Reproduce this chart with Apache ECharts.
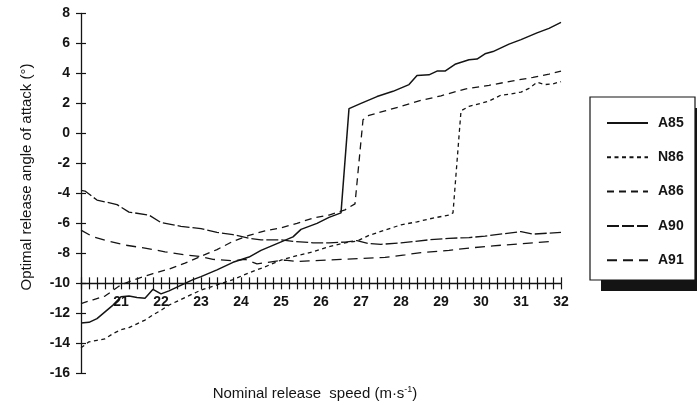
<!DOCTYPE html>
<html>
<head>
<meta charset="utf-8">
<script src="https://cdn.jsdelivr.net/npm/echarts@6/dist/echarts.min.js"></script>
<style>html,body{margin:0;padding:0;background:#fff}#c{width:697px;height:405px}</style>
</head>
<body>
<div id="c"></div>
<script>
// ---- data ----
const xTicks = [21,22,23,24,25,26,27,28,29,30,31,32];
const yTicks = [-16,-14,-12,-10,-8,-6,-4,-2,0,2,4,6,8];

const speedA85 = [20.0,20.2,20.4,20.6,20.8,21.0,21.2,21.4,21.6,21.8,22.0,22.2,22.4,22.6,22.8,23.0,23.4,23.8,24.2,24.5,24.9,25.3,25.5,25.9,26.2,26.5,26.7,27.0,27.4,27.8,28.2,28.4,28.7,28.9,29.1,29.35,29.7,29.9,30.1,30.3,30.7,31.0,31.4,31.7,32.0];
const angleA85 = [-12.65,-12.6,-12.35,-11.9,-11.45,-10.9,-10.85,-10.95,-11.0,-10.4,-10.7,-10.5,-10.25,-10.0,-9.75,-9.55,-9.1,-8.6,-8.25,-7.8,-7.35,-6.9,-6.4,-6.0,-5.6,-5.3,1.65,2.0,2.45,2.8,3.25,3.85,3.9,4.15,4.15,4.6,4.9,4.95,5.3,5.45,5.95,6.25,6.7,7.0,7.4];

const speedN86 = [20.0,20.2,20.4,20.6,20.8,21.0,21.2,21.4,21.6,21.8,22.0,22.2,22.4,22.6,22.8,23.0,23.4,23.8,24.2,24.6,25.0,25.4,25.8,26.2,26.6,26.9,27.2,27.6,28.0,28.4,28.8,29.2,29.3,29.5,29.7,30.0,30.2,30.5,30.7,31.0,31.2,31.4,31.6,31.8,32.0];
const angleN86 = [-14.3,-13.9,-13.8,-13.7,-13.35,-13.1,-12.95,-12.7,-12.45,-12.1,-11.8,-11.45,-11.2,-10.95,-10.7,-10.45,-10.1,-9.75,-9.3,-8.9,-8.45,-8.15,-7.9,-7.55,-7.3,-7.18,-6.8,-6.45,-6.1,-5.9,-5.65,-5.45,-5.3,1.5,1.8,2.0,2.15,2.55,2.6,2.75,3.0,3.4,3.25,3.3,3.45];

const speedA86 = [20.0,20.3,20.6,21.0,21.4,21.8,22.2,22.6,23.0,23.4,23.8,24.2,24.6,25.0,25.4,25.8,26.2,26.6,26.85,27.05,27.2,27.6,28.0,28.5,29.0,29.6,30.2,30.8,31.3,31.7,32.0];
const angleA86 = [-11.35,-11.1,-10.85,-10.1,-9.7,-9.35,-9.05,-8.65,-8.2,-7.75,-7.2,-6.8,-6.5,-6.3,-6.0,-5.65,-5.45,-5.1,-4.7,0.9,1.2,1.5,1.8,2.2,2.5,2.95,3.2,3.5,3.73,3.95,4.15];

const speedA90 = [20.0,20.1,20.4,20.9,21.2,21.7,22.0,22.5,23.0,23.4,23.8,24.2,24.5,25.0,25.3,25.8,26.2,26.6,26.9,27.2,27.5,28.0,28.7,29.2,29.7,30.1,30.7,31.0,31.3,31.7,32.0];
const angleA90 = [-3.8,-3.85,-4.45,-4.75,-5.25,-5.45,-5.95,-6.2,-6.35,-6.6,-6.75,-7.0,-7.1,-7.1,-7.2,-7.3,-7.3,-7.25,-7.15,-7.35,-7.4,-7.3,-7.1,-7.0,-6.95,-6.85,-6.65,-6.55,-6.72,-6.65,-6.6];

const speedA91 = [20.0,20.3,20.7,21.1,21.6,22.1,22.6,23.0,23.3,23.8,24.1,24.4,24.8,25.1,25.4,25.7,26.2,26.5,27.0,27.6,28.1,28.5,29.2,29.7,30.3,30.9,31.4,31.8];
const angleA91 = [-6.45,-6.9,-7.2,-7.45,-7.65,-7.9,-8.1,-8.22,-8.4,-8.5,-8.4,-8.7,-8.55,-8.45,-8.55,-8.5,-8.45,-8.4,-8.35,-8.27,-8.1,-7.95,-7.8,-7.65,-7.5,-7.38,-7.28,-7.2];

const seriesNames = ['A85','N86','A86','A90','A91'];

// ---- chart ----
const FONT = '"Liberation Sans", Arial, Helvetica, sans-serif';
const INK = '#141414';
const zip = (xs, ys) => xs.map((x, i) => [x, ys[i]]);
const dashes = {
  A85: 'solid',
  N86: [4, 3.5],
  A86: [7, 5],
  A90: [12, 3],
  A91: [10, 6]
};
const widths = {A85: 1.5, N86: 1.3, A86: 1.3, A90: 1.3, A91: 1.3};
const dataMap = {
  A85: zip(speedA85, angleA85),
  N86: zip(speedN86, angleN86),
  A86: zip(speedA86, angleA86),
  A90: zip(speedA90, angleA90),
  A91: zip(speedA91, angleA91)
};

const chart = echarts.init(document.getElementById('c'), null, {renderer: 'canvas'});

const xBase = {
  type: 'value', min: 20, max: 32, interval: 1, position: 'bottom',
  offset: -90,
  splitLine: {show: false}
};
const yBase = {
  type: 'value', min: -16, max: 8, interval: 2, position: 'left', offset: 0,
  splitLine: {show: false}
};

// legend frame geometry
const LG = {x: 590, y: 97, w: 105, h: 183, sh: 11};

chart.setOption({
  animation: false,
  backgroundColor: '#fff',
  grid: {left: 81, right: 136, top: 13.33, bottom: 31.67, containLabel: false, outerBoundsMode: 'none'},
  xAxis: [
    Object.assign({}, xBase, {
      axisLine: {show: true, onZero: false, lineStyle: {color: INK, width: 1.3}},
      axisTick: {show: true, inside: false, length: 6, lineStyle: {color: INK, width: 1.2}},
      minorTick: {show: true, splitNumber: 5, length: 6, lineStyle: {color: INK, width: 1.2}},
      axisLabel: {
        show: true, margin: 12, fontSize: 14, fontWeight: 'bold', fontFamily: FONT, color: INK,
        formatter: v => (xTicks.indexOf(Math.round(v)) >= 0 && Math.abs(v - Math.round(v)) < 1e-6) ? String(Math.round(v)) : ''
      }
    }),
    Object.assign({}, xBase, {
      axisLine: {show: false, onZero: false},
      axisTick: {show: true, inside: true, length: 6, lineStyle: {color: INK, width: 1.2}},
      minorTick: {show: true, splitNumber: 5, length: 6, lineStyle: {color: INK, width: 1.2}},
      axisLabel: {show: false}
    })
  ],
  yAxis: [
    Object.assign({}, yBase, {
      axisLine: {show: true, onZero: false, lineStyle: {color: INK, width: 1.3}},
      axisTick: {show: true, inside: false, length: 5, lineStyle: {color: INK, width: 1.2}},
      axisLabel: {
        show: true, margin: 11, fontSize: 14, fontWeight: 'bold', fontFamily: FONT, color: INK,
        formatter: v => yTicks.indexOf(v) >= 0 ? String(v) : ''
      }
    }),
    Object.assign({}, yBase, {
      axisLine: {show: false, onZero: false},
      axisTick: {show: true, inside: true, length: 5, lineStyle: {color: INK, width: 1.2}},
      axisLabel: {show: false}
    })
  ],
  legend: {
    orient: 'vertical',
    left: LG.x, top: LG.y,
    data: seriesNames,
    itemWidth: 41, itemHeight: 14, itemGap: 20.3,
    padding: [19, 12, 13, 16],
    backgroundColor: 'transparent',
    borderWidth: 0,
    itemStyle: {opacity: 0},
    textStyle: {fontSize: 14, fontWeight: 'bold', fontFamily: FONT, color: INK, padding: [0, 0, 0, 5]},
    selectedMode: false,
    z: 20
  },
  graphic: [
    {
      type: 'rect', z: 10,
      shape: {x: LG.x + LG.sh, y: LG.y + LG.sh, width: LG.w, height: LG.h},
      style: {fill: INK, stroke: null}
    },
    {
      type: 'rect', z: 11,
      shape: {x: LG.x, y: LG.y, width: LG.w, height: LG.h},
      style: {fill: '#fff', stroke: INK, lineWidth: 1.2}
    },
    {
      type: 'text', x: 315, y: 394,
      style: {
        text: '{a|Nominal release  speed (m·s}{s|-1}{a|)}',
        align: 'center', verticalAlign: 'middle',
        rich: {
          a: {fontSize: 15, fontFamily: FONT, fill: INK, color: INK},
          s: {fontSize: 9, fontFamily: FONT, fill: INK, color: INK, padding: [0, 0, 8, 0]}
        }
      }
    },
    {
      type: 'text', x: 27, y: 177, rotation: Math.PI / 2,
      style: {
        text: 'Optimal release angle of attack (°)',
        align: 'center', verticalAlign: 'middle',
        fontSize: 15, fontFamily: FONT, fill: INK
      }
    }
  ],
  series: seriesNames.map(n => ({
    name: n, type: 'line', xAxisIndex: 0, yAxisIndex: 0,
    data: dataMap[n], symbol: 'none', showSymbol: false,
    lineStyle: {color: INK, width: widths[n], type: dashes[n]},
    itemStyle: {color: INK},
    emphasis: {disabled: true},
    z: 3
  }))
});
</script>
</body>
</html>
